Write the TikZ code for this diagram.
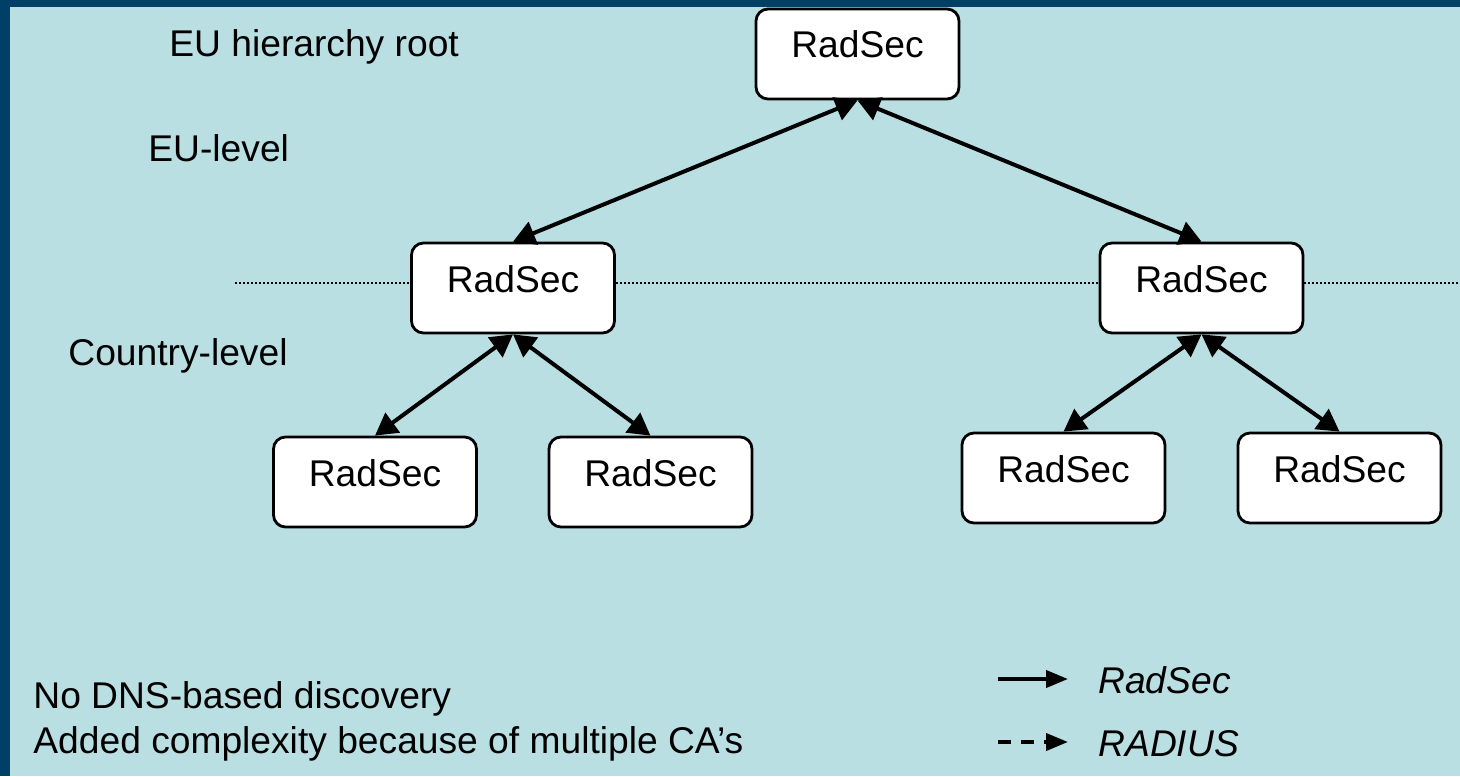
\documentclass[tikz,border=0pt]{standalone}
\usepackage{fontspec}
\setmainfont{Liberation Sans}
\usetikzlibrary{arrows.meta}
\definecolor{frame}{HTML}{003F66}
\definecolor{panel}{HTML}{B9DFE3}
\tikzset{
  server/.style={draw=black, line width=1.4pt, rounded corners=6pt, fill=white,
    minimum width=101.5pt, minimum height=45pt, inner sep=0pt,
    text height=14pt, text depth=10pt, font=\fontsize{18.6}{22}\selectfont},
  toproot/.style={server, text depth=11pt},
  link/.style={line width=2pt,
    {Triangle[length=11pt,width=12pt]}-{Triangle[length=11pt,width=12pt]}},
  levelsep/.style={line width=0.9pt, dash pattern=on 0.9pt off 1.1pt},
  caption/.style={anchor=base west, inner sep=0pt, font=\fontsize{18.6}{22}\selectfont},
  legendtip/.style={-{Triangle[length=11pt,width=8.5pt]}, line width=2pt}
}
\begin{document}
\begin{tikzpicture}[x=0.5pt,y=-0.5pt]
  % backdrop: dark frame on the top and left, light panel elsewhere
  \fill[frame] (0,0) rectangle (1460,776);
  \fill[panel] (10,7) rectangle (1460,776);
  \useasboundingbox (0,0) rectangle (1460,776);

  % level captions
  \node[caption] (lroot) at (169,56) {EU hierarchy root};
  \node[caption] (leu) at (148,161) {EU-level};
  \node[caption] (lcountry) at (68,365) {Country-level};

  % servers
  \node[toproot] (root) at (857.5,54) {RadSec};
  \node[server] (ml) at (513,288) {RadSec};
  \node[server] (mr) at (1201.5,288) {RadSec};
  \node[server] (b1) at (375,482) {RadSec};
  \node[server] (b2) at (650.5,482) {RadSec};
  \node[server] (b3) at (1063.5,478) {RadSec};
  \node[server] (b4) at (1339.5,478) {RadSec};

  % dotted boundary between EU-level and country-level
  \coordinate (sepL) at (235,283);
  \coordinate (sepR) at (1460,283);
  \draw[levelsep] (sepL) -- ([yshift=2.5pt]ml.west);
  \draw[levelsep] ([yshift=2.5pt]ml.east) -- ([yshift=2.5pt]mr.west);
  \draw[levelsep] ([yshift=2.5pt]mr.east) -- (sepR);

  % RadSec links
  \draw[link] (root.south) -- (ml.north);
  \draw[link] (root.south) -- (mr.north);
  \draw[link] (ml.south) -- (b1.north);
  \draw[link] (ml.south) -- (b2.north);
  \draw[link] (mr.south) -- (b3.north);
  \draw[link] (mr.south) -- (b4.north);

  % remarks
  \node[caption] (note1) at (33,708) {No DNS-based discovery};
  \node[caption] (note2) at (33,753) {Added complexity because of multiple CA’s};

  % legend
  \coordinate (legA1) at (998,679);
  \coordinate (legA2) at (1068,679);
  \coordinate (legB1) at (998,742);
  \coordinate (legB2) at (1068,742);
  \draw[legendtip] (legA1) -- (legA2);
  \draw[legendtip, dash pattern=on 6.5pt off 5pt] (legB1) -- (legB2);
  \node[caption, font=\fontsize{18.6}{22}\selectfont\itshape] (legRadSec) at (1098,693) {RadSec};
  \node[caption, font=\fontsize{18.6}{22}\selectfont\itshape] (legRadius) at (1098,756) {RADIUS};
\end{tikzpicture}
\end{document}
